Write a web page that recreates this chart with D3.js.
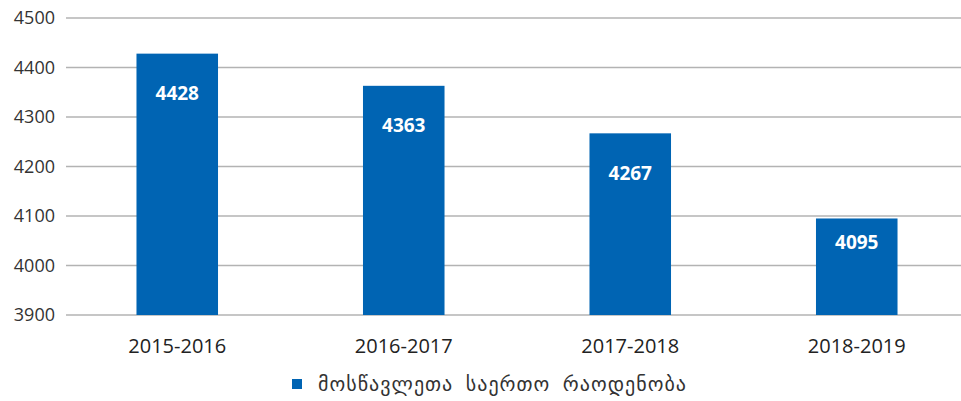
<!DOCTYPE html>
<html lang="ka">
<head>
<meta charset="UTF-8">
<title>chart</title>
<script src="https://cdn.jsdelivr.net/npm/d3@7"></script>
<style>
  body { margin: 0; background: #fff; }
  text { font-family: "Open Sans", "DejaVu Sans", sans-serif; }
</style>
</head>
<body>
<svg width="961" height="401"></svg>
<script>
    // school years and pupil counts
    var years = ["2015-2016", "2016-2017", "2017-2018", "2018-2019"];
    var pupils = [4428, 4363, 4267, 4095];
    var yTicks = [3900, 4000, 4100, 4200, 4300, 4400, 4500];
    var legendLabel = "მოსწავლეთა  საერთო  რაოდენობა";

    var svg = d3.select("svg");
    var barColor = "#0064b3";

    var x = d3.scaleBand()
            .domain(years)
            .range([64, 970])
            .paddingInner(0.64)
            .paddingOuter(0.32);

    var y = d3.scaleLinear()
            .domain([3900, 4500])
            .range([315, 18]);

    // gridlines
    svg.append("g")
            .selectAll("line")
            .data(yTicks)
            .join("line")
            .attr("x1", 66)
            .attr("x2", 961)
            .attr("y1", function(d) { return y(d); })
            .attr("y2", function(d) { return y(d); })
            .attr("stroke", "#b3b3b3")
            .attr("stroke-width", 1.5);

    // y axis labels
    var yAxis = svg.append("g")
            .attr("transform", "translate(55,0)")
            .call(d3.axisLeft(y).tickValues(yTicks).tickFormat(d3.format("d")).tickSize(0).tickPadding(0));
    yAxis.select(".domain").remove();
    yAxis.selectAll("text")
            .attr("font-size", 18)
            .attr("fill", "#333")
            .style("font-family", "'Open Sans', sans-serif");

    // bars
    svg.append("g")
            .selectAll("rect")
            .data(pupils)
            .join("rect")
            .attr("x", function(d, i) { return x(years[i]); })
            .attr("width", x.bandwidth())
            .attr("y", function(d) { return y(d); })
            .attr("height", function(d) { return y(3900) - y(d); })
            .attr("fill", barColor);

    // value labels
    svg.append("g")
            .selectAll("text")
            .data(pupils)
            .join("text")
            .attr("x", function(d, i) { return x(years[i]) + x.bandwidth() / 2; })
            .attr("y", function(d) {
                var top = y(d);
                return top + Math.min(40, (y(3900) - top) / 4);
            })
            .attr("dy", "0.35em")
            .attr("text-anchor", "middle")
            .attr("font-size", 19)
            .attr("font-weight", "bold")
            .attr("fill", "#fff")
            .text(function(d) { return d; });

    // x axis labels
    var xAxis = svg.append("g")
            .attr("transform", "translate(0,339)")
            .call(d3.axisBottom(x).tickSize(0).tickPadding(0));
    xAxis.select(".domain").remove();
    xAxis.selectAll("text")
            .attr("font-size", 20)
            .attr("fill", "#222")
            .style("font-family", "'Open Sans', sans-serif");

    // legend
    var legend = svg.append("g");
    legend.append("rect")
            .attr("x", 292)
            .attr("y", 379)
            .attr("width", 10)
            .attr("height", 10)
            .attr("fill", barColor);
    legend.append("text")
            .attr("x", 318)
            .attr("y", 384)
            .attr("dy", "0.35em")
            .attr("font-size", 20)
            .attr("fill", "#333")
            .attr("textLength", 368)
            .attr("lengthAdjust", "spacing")
            .style("white-space", "pre")
            .text(legendLabel);
</script>
</body>
</html>
